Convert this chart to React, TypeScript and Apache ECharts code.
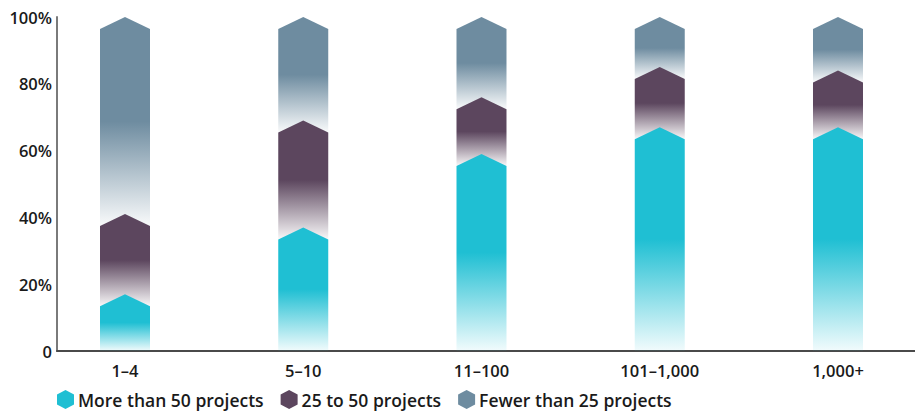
import React, { useEffect, useRef } from "react";
import * as echarts from "echarts";

const categories = ["1–4", "5–10", "11–100", "101–1,000", "1,000+"];
const moreThan50 = [17, 37, 59, 67, 67];
const from25to50 = [24, 32, 17, 18, 17];
const fewerThan25 = [59, 31, 24, 15, 16];
const seriesNames = ["More than 50 projects", "25 to 50 projects", "Fewer than 25 projects"];
const seriesColors = ["#1fbfd3", "#5c465e", "#6e8ca0"];
const fadeColors = ["rgba(31,191,211,0.06)", "rgba(92,70,94,0.04)", "rgba(110,140,160,0.04)"];
const yTicks = [0, 20, 40, 60, 80, 100];

const FONT = "'Open Sans', Lato, sans-serif";

function buildData(idx: number) {
  const lists = [moreThan50, from25to50, fewerThan25];
  return categories.map((_, i) => {
    let base = 0;
    for (let k = 0; k < idx; k++) base += lists[k][i];
    return [i, base, base + lists[idx][i], idx];
  });
}

export default function App() {
  const ref = useRef<HTMLDivElement>(null);
  useEffect(() => {
    if (!ref.current) return;
    const chart = echarts.init(ref.current, null, { renderer: "svg" });
    const HALF = 25;
    const ARROW = 12;
    const renderItem = (params: any, api: any) => {
      const i = api.value(0);
      const base = api.value(1);
      const top = api.value(2);
      const s = api.value(3);
      const c = api.coord([i, top]);
      const b = api.coord([i, base]);
      const x = c[0];
      const yTop = c[1];
      const yBase = base === 0 ? b[1] : b[1] + ARROW;
      return {
        type: "polygon",
        shape: {
          points: [
            [x - HALF, yBase],
            [x + HALF, yBase],
            [x + HALF, yTop + ARROW],
            [x, yTop],
            [x - HALF, yTop + ARROW],
          ],
        },
        style: {
          fill: new echarts.graphic.LinearGradient(0, 0, 0, 1, [
            { offset: 0, color: seriesColors[s] },
            { offset: 0.5, color: seriesColors[s] },
            { offset: 1, color: fadeColors[s] },
          ]),
        },
      };
    };
    const hex = "path://M8.5,0 L17,4.5 L17,14.5 L8.5,19 L0,14.5 L0,4.5 Z";
    const order = [2, 1, 0];
    chart.setOption({
      animation: false,
      grid: { left: 57, right: 0, top: 17, bottom: 60 },
      legend: {
        left: 57,
        top: 390,
        padding: 0,
        itemWidth: 17,
        itemHeight: 19,
        itemGap: 17,
        icon: hex,
        data: seriesNames.map((n) => ({ name: n, icon: hex })),
        textStyle: { fontFamily: FONT, fontWeight: 600, fontSize: 17.5, color: "#1a1a1a", padding: [0, 0, 0, -1] },
      },
      xAxis: {
        type: "value",
        min: -0.3815,
        max: 4.432,
        splitLine: { show: false },
        axisTick: { show: false },
        axisLine: { show: true, onZero: false, lineStyle: { color: "#4a4a4a", width: 2 } },
        axisLabel: {
          customValues: [0, 1, 2, 3, 4],
          formatter: (v: number) => categories[Math.round(v)] ?? "",
          fontFamily: FONT,
          fontWeight: 600,
          fontSize: 16.5,
          color: "#1a1a1a",
          margin: 11,
        },
      },
      yAxis: {
        type: "value",
        min: 0,
        max: 100,
        interval: 20,
        splitLine: { show: false },
        axisTick: { show: false },
        axisLine: { show: true, onZero: false, lineStyle: { color: "#7a7a7a", width: 2 } },
        axisLabel: {
          customValues: yTicks,
          formatter: (v: number) => (v === 0 ? "0" : v + "%"),
          fontFamily: FONT,
          fontWeight: 600,
          fontSize: 16.5,
          color: "#1a1a1a",
          margin: 5,
        },
      },
      series: order.map((s) => ({
        type: "custom",
        name: seriesNames[s],
        itemStyle: { color: seriesColors[s] },
        renderItem,
        encode: { x: 0, y: [1, 2] },
        data: buildData(s),
      })),
    });
    return () => chart.dispose();
  }, []);
  return <div ref={ref} style={{ width: 915, height: 411, position: "absolute", left: 0, top: 0 }} />;
}
